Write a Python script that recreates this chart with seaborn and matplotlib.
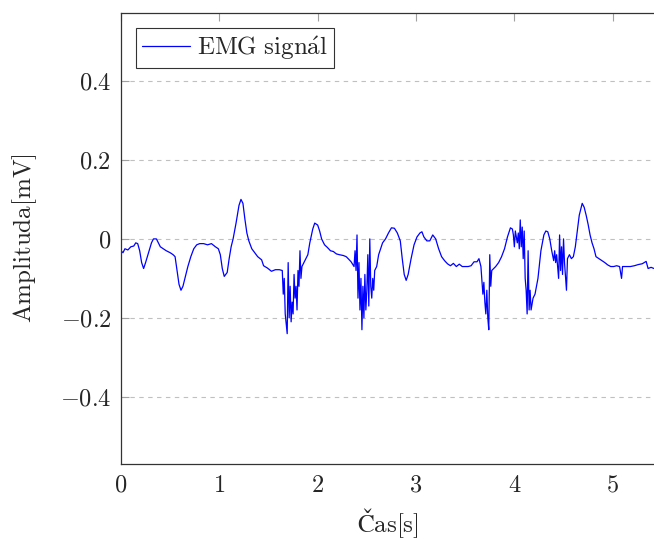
import numpy as np
import pandas as pd
import matplotlib
matplotlib.use("Agg")
import matplotlib.pyplot as plt
import seaborn as sns

# EMG trace (time in s, amplitude in mV)
time_s = [
    0.00, 0.02, 0.04, 0.07, 0.10, 0.13, 0.15, 0.17, 0.19, 0.21, 0.23, 0.25, 0.28, 0.31, 0.33, 0.36,
    0.38, 0.40, 0.43, 0.46, 0.50, 0.53, 0.55, 0.57, 0.59, 0.61, 0.63, 0.65, 0.68, 0.71, 0.74, 0.77,
    0.80, 0.84, 0.88, 0.92, 0.96, 0.99, 1.01, 1.03, 1.05, 1.08, 1.10, 1.12, 1.14, 1.17, 1.20, 1.22,
    1.24, 1.26, 1.28, 1.30, 1.33, 1.36, 1.39, 1.43, 1.45, 1.49, 1.53, 1.57, 1.61, 1.64, 1.65, 1.66,
    1.67, 1.69, 1.70, 1.71, 1.72, 1.73, 1.74, 1.75, 1.76, 1.77, 1.78, 1.79, 1.80, 1.81, 1.82, 1.83,
    1.84, 1.86, 1.88, 1.90, 1.92, 1.95, 1.97, 2.00, 2.02, 2.04, 2.07, 2.10, 2.13, 2.16, 2.19, 2.22,
    2.26, 2.29, 2.31, 2.34, 2.37, 2.38, 2.39, 2.40, 2.41, 2.42, 2.43, 2.44, 2.45, 2.46, 2.47, 2.48,
    2.49, 2.50, 2.51, 2.52, 2.53, 2.54, 2.55, 2.56, 2.57, 2.58, 2.60, 2.62, 2.64, 2.66, 2.69, 2.72,
    2.75, 2.78, 2.81, 2.84, 2.86, 2.88, 2.90, 2.92, 2.95, 2.98, 3.01, 3.04, 3.06, 3.08, 3.11, 3.14,
    3.17, 3.20, 3.23, 3.26, 3.29, 3.32, 3.35, 3.38, 3.41, 3.44, 3.47, 3.50, 3.53, 3.56, 3.59, 3.62,
    3.64, 3.66, 3.68, 3.69, 3.70, 3.71, 3.72, 3.73, 3.74, 3.75, 3.76, 3.77, 3.79, 3.81, 3.84, 3.87,
    3.90, 3.93, 3.96, 3.98, 3.99, 4.00, 4.01, 4.03, 4.04, 4.05, 4.06, 4.07, 4.08, 4.09, 4.10, 4.11,
    4.12, 4.13, 4.14, 4.15, 4.16, 4.17, 4.19, 4.21, 4.24, 4.27, 4.30, 4.32, 4.34, 4.36, 4.38, 4.40,
    4.41, 4.42, 4.43, 4.44, 4.45, 4.46, 4.47, 4.48, 4.49, 4.50, 4.51, 4.53, 4.54, 4.56, 4.58, 4.60,
    4.62, 4.64, 4.66, 4.69, 4.71, 4.73, 4.75, 4.77, 4.79, 4.81, 4.83, 4.86, 4.89, 4.92, 4.95, 4.98,
    5.01, 5.04, 5.07, 5.09, 5.10, 5.14, 5.18, 5.22, 5.26, 5.30, 5.34, 5.36, 5.39, 5.42,
]
amp_mv = [
    -0.030, -0.035, -0.025, -0.028, -0.020, -0.018, -0.010, -0.012, -0.030, -0.060, -0.075, -0.060,
    -0.035, -0.010, 0.000, 0.000, -0.010, -0.020, -0.025, -0.030, -0.035, -0.040, -0.045, -0.080,
    -0.115, -0.130, -0.120, -0.100, -0.070, -0.045, -0.025, -0.015, -0.012, -0.012, -0.015, -0.012,
    -0.020, -0.025, -0.040, -0.075, -0.095, -0.085, -0.050, -0.020, 0.000, 0.040, 0.085, 0.100,
    0.090, 0.050, 0.015, -0.005, -0.025, -0.035, -0.045, -0.053, -0.068, -0.074, -0.082, -0.078,
    -0.078, -0.080, -0.140, -0.100, -0.190, -0.240, -0.060, -0.200, -0.120, -0.210, -0.160, -0.190,
    -0.090, -0.150, -0.120, -0.180, -0.080, -0.120, -0.030, -0.100, -0.070, -0.060, -0.050, -0.040,
    -0.010, 0.025, 0.040, 0.035, 0.020, 0.000, -0.015, -0.022, -0.030, -0.032, -0.038, -0.040,
    -0.042, -0.045, -0.050, -0.058, -0.070, -0.030, -0.080, 0.010, -0.150, -0.060, -0.180, -0.100,
    -0.230, -0.120, -0.200, -0.090, -0.180, -0.130, -0.040, -0.170, 0.000, -0.120, -0.150, -0.100,
    -0.130, -0.080, -0.070, -0.040, -0.025, -0.010, 0.000, 0.015, 0.028, 0.027, 0.015, -0.005,
    -0.050, -0.090, -0.105, -0.090, -0.050, -0.015, 0.005, 0.015, 0.018, 0.005, -0.005, -0.005,
    0.010, 0.000, -0.025, -0.045, -0.055, -0.063, -0.068, -0.062, -0.070, -0.064, -0.070, -0.070,
    -0.070, -0.068, -0.058, -0.058, -0.050, -0.070, -0.140, -0.110, -0.160, -0.190, -0.130, -0.200,
    -0.230, -0.040, -0.120, -0.080, -0.075, -0.070, -0.060, -0.045, -0.025, 0.005, 0.028, 0.025,
    0.010, -0.020, 0.020, -0.010, 0.015, -0.025, 0.048, -0.020, 0.030, -0.050, 0.020, -0.100,
    -0.130, -0.190, -0.030, -0.180, -0.130, -0.180, -0.150, -0.140, -0.100, -0.030, 0.010, 0.020,
    0.018, 0.000, -0.030, -0.055, -0.030, -0.060, -0.040, -0.070, -0.100, 0.010, -0.080, -0.020,
    -0.090, 0.000, -0.060, -0.130, -0.050, -0.040, -0.050, -0.045, -0.020, 0.020, 0.060, 0.090,
    0.080, 0.060, 0.037, 0.010, -0.010, -0.025, -0.045, -0.050, -0.055, -0.060, -0.066, -0.070,
    -0.070, -0.068, -0.070, -0.100, -0.070, -0.070, -0.070, -0.068, -0.065, -0.063, -0.057, -0.075,
    -0.072, -0.075,
]

y_ticks = [-0.4, -0.2, 0, 0.2, 0.4]
x_ticks = [0, 1, 2, 3, 4, 5]

df = pd.DataFrame({"t": time_s, "a": amp_mv})

sns.set_style("white")
plt.rcParams["font.family"] = ["serif"]
plt.rcParams["mathtext.fontset"] = "cm"
plt.rcParams["axes.formatter.use_mathtext"] = True

fig = plt.figure(figsize=(6.54, 5.41), dpi=100)
ax = fig.add_axes([0.185, 0.1423, 0.815, 0.8337])

sns.lineplot(data=df, x="t", y="a", ax=ax, color="#0000ff", linewidth=0.9,
             estimator=None, sort=False, label=r"$\mathrm{EMG\ sign\acute{a}l}$")

ax.set_xlim(0, 5.42)
ax.set_ylim(-0.57, 0.572)
ax.set_xticks(x_ticks)
ax.set_yticks(y_ticks)
ax.set_xticklabels([f"${v}$" for v in x_ticks])
ax.set_yticklabels([r"$-0.4$", r"$-0.2$", r"$0$", r"$0.2$", r"$0.4$"])

ax.yaxis.grid(True, linestyle=(0, (4, 4)), color="#c0c0c0", linewidth=0.8)
ax.xaxis.grid(False)

ax.tick_params(axis="both", direction="in", length=6, width=0.8, color="#a0a0a0",
               labelsize=17.5, pad=7)
ax.tick_params(axis="x", top=True)
ax.tick_params(axis="y", left=True)
for side in ["left", "bottom", "top"]:
    ax.spines[side].set_color("#333333")
    ax.spines[side].set_linewidth(0.9)
ax.spines["right"].set_visible(False)

ax.set_xlabel(r"$\mathrm{Čas[s]}$", fontsize=18, labelpad=7)
ax.set_ylabel(r"$\mathrm{Amplituda[mV]}$", fontsize=18, labelpad=15)

leg = ax.legend(loc="upper left", fontsize=18, frameon=True, fancybox=False,
                edgecolor="black", handlelength=1.9, handletextpad=0.3,
                borderpad=0.25, borderaxespad=0.6)
leg.get_frame().set_linewidth(0.8)

fig.savefig("out.png", dpi=100)
